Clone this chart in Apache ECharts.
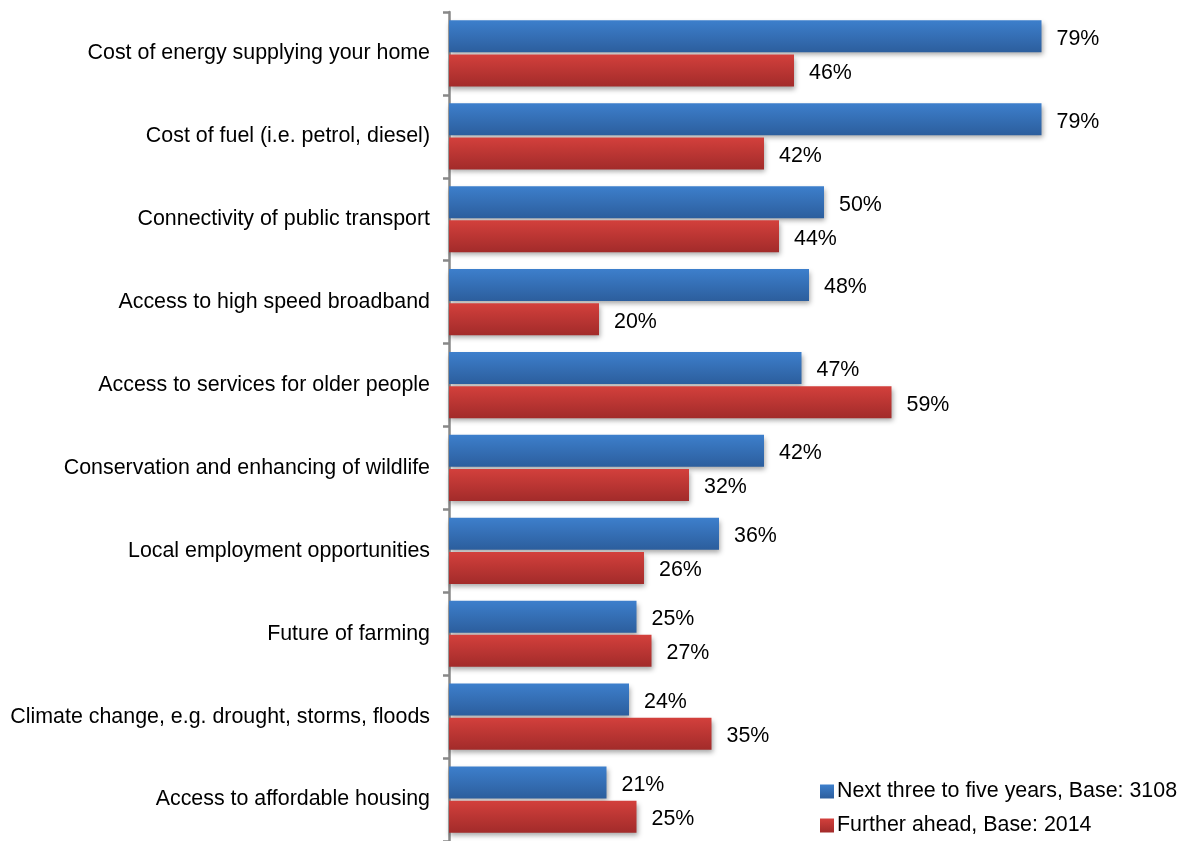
<!DOCTYPE html>
<html>
<head>
<meta charset="utf-8">
<title>Concerns for the future</title>
<script src="https://cdn.jsdelivr.net/npm/echarts@6/dist/echarts.min.js"></script>
<style>
  html, body { margin: 0; padding: 0; background: #ffffff; }
  #chart { width: 1183px; height: 841px; }
</style>
</head>
<body>
<div id="chart"></div>
<script>
// Issues, listed top to bottom
const categories = [
  'Cost of energy supplying your home',
  'Cost of fuel (i.e. petrol, diesel)',
  'Connectivity of public transport',
  'Access to high speed broadband',
  'Access to services for older people',
  'Conservation and enhancing of wildlife',
  'Local employment opportunities',
  'Future of farming',
  'Climate change, e.g. drought, storms, floods',
  'Access to affordable housing'
];

// Share of respondents (%)
const nextYears = [79, 79, 50, 48, 47, 42, 36, 25, 24, 21];
const furtherAhead = [46, 42, 44, 20, 59, 32, 26, 27, 35, 25];

const seriesNames = ['Next three to five years, Base: 3108', 'Further ahead, Base: 2014'];

const FONT = 'Liberation Sans, Arial, sans-serif';
const FONT_SIZE = 21.4;

function vGrad(top, bottom) {
  return new echarts.graphic.LinearGradient(0, 0, 0, 1, [
    { offset: 0, color: top },
    { offset: 1, color: bottom }
  ]);
}

const blueFill = vGrad('#3d7fcc', '#2c5e9d');
const redFill = vGrad('#d3403c', '#a22b2a');

const chart = echarts.init(document.getElementById('chart'), null, { renderer: 'canvas' });

const labelStyle = {
  show: true,
  position: 'right',
  distance: 15,
  offset: [0, 2.5],
  formatter: '{c}%',
  fontFamily: FONT,
  fontSize: FONT_SIZE,
  color: '#000000'
};

const shadow = {
  shadowColor: 'rgba(0,0,0,0.35)',
  shadowBlur: 5,
  shadowOffsetX: 1,
  shadowOffsetY: 3
};

chart.setOption({
  backgroundColor: '#ffffff',
  animation: false,
  grid: { left: 449, top: 12, width: 600, height: 833 },
  xAxis: {
    type: 'value',
    min: 0,
    max: 80,
    show: false
  },
  yAxis: {
    type: 'category',
    inverse: true,
    data: categories,
    axisLine: { show: true, lineStyle: { color: '#888888', width: 2.5 } },
    axisTick: { show: true, length: 6, lineStyle: { color: '#888888', width: 2.5 } },
    axisLabel: {
      margin: 19,
      fontFamily: FONT,
      fontSize: FONT_SIZE,
      color: '#000000'
    },
    splitLine: { show: false }
  },
  legend: {
    orient: 'vertical',
    left: 815,
    top: 776,
    itemWidth: 14,
    itemHeight: 14,
    itemGap: 13,
    icon: 'rect',
    textStyle: {
      fontFamily: FONT,
      fontSize: FONT_SIZE,
      color: '#000000',
      padding: [0, 0, 0, -2]
    },
    data: seriesNames
  },
  series: [
    {
      name: seriesNames[0],
      type: 'bar',
      data: nextYears,
      barWidth: 32,
      barGap: '7%',
      itemStyle: Object.assign({ color: blueFill }, shadow),
      label: labelStyle
    },
    {
      name: seriesNames[1],
      type: 'bar',
      data: furtherAhead,
      barWidth: 32,
      barGap: '7%',
      itemStyle: Object.assign({ color: redFill }, shadow),
      label: labelStyle
    }
  ]
});
</script>
</body>
</html>
